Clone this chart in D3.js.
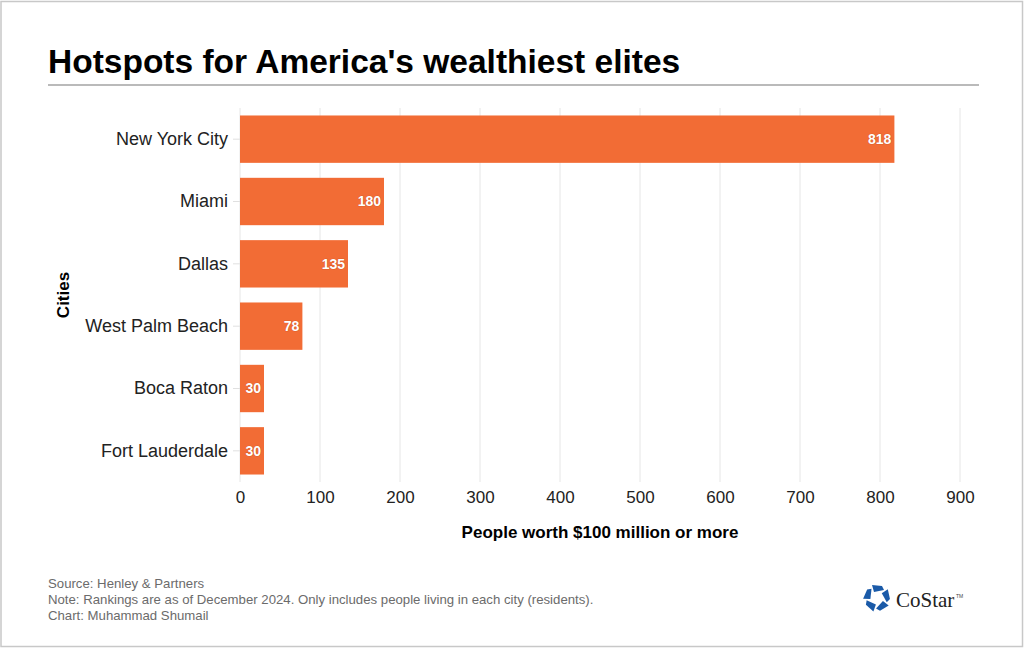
<!DOCTYPE html>
<html>
<head>
<meta charset="utf-8">
<script src="https://cdn.jsdelivr.net/npm/d3@7"></script>
<style>
  body { margin: 0; background: #fff; }
  svg { font-family: "Liberation Sans", Arial, sans-serif; }
</style>
</head>
<body>
<div id="chart"></div>
<script>
// Data
const cities = ['New York City', 'Miami', 'Dallas', 'West Palm Beach', 'Boca Raton', 'Fort Lauderdale'];
const people = [818, 180, 135, 78, 30, 30];
const xTicks = [0, 100, 200, 300, 400, 500, 600, 700, 800, 900];
const footnotes = [
    'Source: Henley & Partners',
    'Note: Rankings are as of December 2024. Only includes people living in each city (residents).',
    'Chart: Muhammad Shumail'
];

const width = 1024, height = 648;
const margin = { top: 108, right: 64, bottom: 166, left: 240 };

const svg = d3.select('#chart').append('svg')
    .attr('width', width)
    .attr('height', height);

// Outer frame
svg.append('rect')
    .attr('x', 1).attr('y', 1.5)
    .attr('width', width - 2.5).attr('height', height - 3)
    .attr('fill', '#fff')
    .attr('stroke', '#c8c8c8')
    .attr('stroke-width', 1.5);

// Title and rule
svg.append('text')
    .attr('x', 48).attr('y', 73)
    .style('font-size', '33.5px')
    .style('font-weight', 'bold')
    .attr('fill', '#000')
    .text("Hotspots for America's wealthiest elites");

svg.append('line')
    .attr('x1', 48).attr('x2', 979)
    .attr('y1', 85).attr('y2', 85)
    .attr('stroke', '#777')
    .attr('stroke-width', 1.2);

// Scales
const x = d3.scaleLinear()
    .domain([0, 900])
    .range([margin.left, width - margin.right]);

const y = d3.scaleBand()
    .domain(cities)
    .range([margin.top, height - margin.bottom])
    .paddingInner(0.24)
    .paddingOuter(0.12);

// Gridlines
svg.append('g')
    .selectAll('line')
    .data(xTicks)
    .join('line')
    .attr('x1', d => x(d)).attr('x2', d => x(d))
    .attr('y1', margin.top).attr('y2', height - margin.bottom)
    .attr('stroke', '#e6e6e6')
    .attr('stroke-width', 1);

// Bars
svg.append('g')
    .selectAll('rect')
    .data(cities)
    .join('rect')
    .attr('x', x(0))
    .attr('y', d => y(d))
    .attr('width', (d, i) => x(people[i]) - x(0))
    .attr('height', y.bandwidth())
    .attr('fill', '#f26c35');

// Value labels
svg.append('g')
    .selectAll('text')
    .data(cities)
    .join('text')
    .attr('x', (d, i) => x(people[i]) - 3)
    .attr('y', d => y(d) + y.bandwidth() / 2)
    .attr('dy', '0.35em')
    .attr('text-anchor', 'end')
    .style('font-size', '14px')
    .style('font-weight', 'bold')
    .attr('fill', '#fff')
    .attr('stroke', '#c9501f')
    .attr('stroke-width', 0.7)
    .attr('paint-order', 'stroke')
    .text((d, i) => people[i]);

// Y axis
const yAxis = svg.append('g')
    .attr('transform', `translate(${margin.left},0)`)
    .call(d3.axisLeft(y).tickSize(7).tickPadding(5));
yAxis.select('.domain').remove();
yAxis.selectAll('.tick line').attr('stroke', '#e0e0e0');
yAxis.selectAll('.tick text')
    .style('font-size', '18px')
    .style('font-family', '"Liberation Sans", Arial, sans-serif')
    .attr('fill', '#222');

// X axis
const xAxis = svg.append('g')
    .attr('transform', `translate(0,${height - margin.bottom})`)
    .call(d3.axisBottom(x).tickValues(xTicks).tickSize(0).tickPadding(9));
xAxis.select('.domain').remove();
xAxis.selectAll('.tick text')
    .style('font-size', '17px')
    .style('font-family', '"Liberation Sans", Arial, sans-serif')
    .attr('fill', '#222');

// Axis titles
svg.append('text')
    .attr('x', 600).attr('y', 538)
    .attr('text-anchor', 'middle')
    .style('font-size', '17px')
    .style('font-weight', 'bold')
    .text('People worth $100 million or more');

svg.append('text')
    .attr('transform', `translate(69,${(margin.top + height - margin.bottom) / 2}) rotate(-90)`)
    .attr('text-anchor', 'middle')
    .style('font-size', '17px')
    .style('font-weight', 'bold')
    .text('Cities');

// Footnotes
svg.append('g')
    .selectAll('text')
    .data(footnotes)
    .join('text')
    .attr('x', 48)
    .attr('y', (d, i) => 588 + i * 16)
    .style('font-size', '13.2px')
    .attr('fill', '#6b6b6b')
    .text(d => d);

// CoStar logo
const logo = svg.append('g').attr('transform', 'translate(877,598)');
const pieces = d3.range(5).map(i => i * 72 - 90);
logo.selectAll('path')
    .data(pieces)
    .join('path')
    .attr('transform', d => `rotate(${d})`)
    .attr('d', 'M6,-3 L13,-5 L12,5 L8,7 Z')
    .attr('fill', '#1a5aa8');

svg.append('text')
    .attr('x', 896).attr('y', 607)
    .style('font-family', '"Liberation Serif", "DejaVu Serif", serif')
    .style('font-size', '21px')
    .attr('fill', '#222')
    .text('CoStar');
svg.append('text')
    .attr('x', 956).attr('y', 598)
    .style('font-size', '5px')
    .attr('fill', '#444')
    .text('TM');
</script>
</body>
</html>
